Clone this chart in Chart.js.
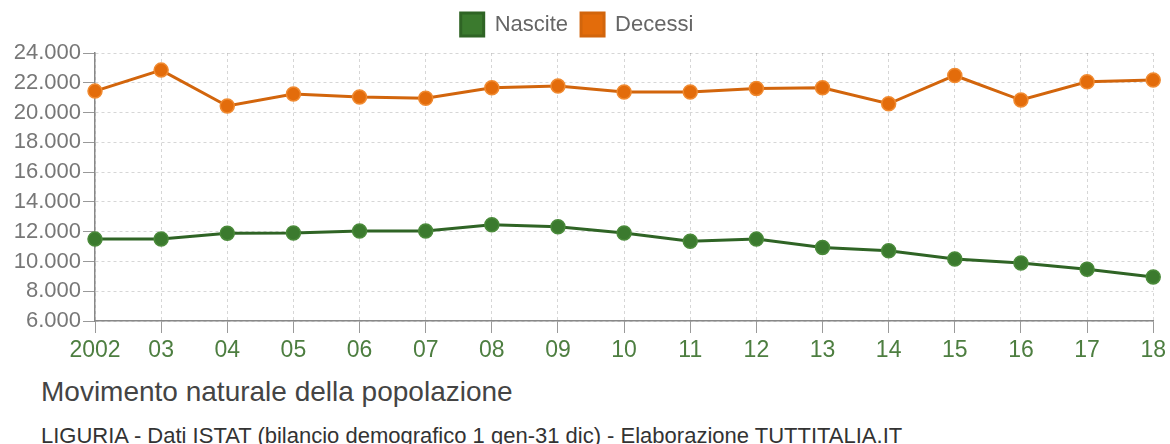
<!DOCTYPE html>
<html lang="it">
<head>
  <meta charset="UTF-8">
  <title>Movimento naturale della popolazione</title>
  <script src="https://cdn.jsdelivr.net/npm/chart.js"></script>
  <style>
    body {
      margin: 0;
      background: #fff;
      font-family: 'Liberation Sans', Arial, sans-serif;
    }
    #wrap {
      position: relative;
      width: 1170px;
      height: 444px;
    }
    #chart {
      position: absolute;
      left: 0;
      top: 0;
    }
    .title {
      position: absolute;
      left: 41px;
      top: 378px;
      font-size: 28px;
      line-height: 28px;
      color: #444;
    }
    .sub {
      position: absolute;
      left: 41px;
      top: 425px;
      font-size: 22px;
      line-height: 22px;
      color: #333;
    }
  </style>
</head>
<body>
  <div id="wrap">
    <canvas id="chart" width="1170" height="365"></canvas>
    <div class="title">Movimento naturale della popolazione</div>
    <div class="sub">LIGURIA - Dati ISTAT (bilancio demografico 1 gen-31 dic) - Elaborazione TUTTITALIA.IT</div>
  </div>

  <script>
    const anni = ['2002', '03', '04', '05', '06', '07', '08', '09', '10', '11', '12', '13', '14', '15', '16', '17', '18'];
    const nascite = [11500, 11510, 11900, 11910, 12040, 12040, 12460, 12330, 11910, 11350, 11500, 10940, 10720, 10160, 9890, 9480, 8960];
    const decessi = [21440, 22850, 20440, 21240, 21040, 20960, 21660, 21780, 21380, 21380, 21620, 21660, 20590, 22490, 20840, 22070, 22180];

    const verde = '#3b7a2e';
    const arancio = '#e36c0b';

    function migliaia(v) {
      return String(v).replace(/\B(?=(\d{3})+(?!\d))/g, '.');
    }

    // legenda piu' alta per lasciare spazio sopra il grafico
    const legendaAlta = {
      id: 'legendaAlta',
      beforeInit(chart) {
        const fit = chart.legend.fit;
        chart.legend.fit = function () {
          fit.bind(chart.legend)();
          this.height = 53;
        };
      }
    };

    Chart.defaults.font.family = "'Liberation Sans', Arial, sans-serif";
    Chart.defaults.color = '#666';

    const griglia = {
      color: 'rgba(0,0,0,0.16)',
      tickLength: 12,
      tickColor: '#999',
      tickBorderDash: []
    };

    new Chart(document.getElementById('chart'), {
      type: 'line',
      data: {
        labels: anni,
        datasets: [
          {
            label: 'Nascite',
            data: nascite,
            borderColor: '#2f6425',
            backgroundColor: verde,
            pointBackgroundColor: verde,
            pointBorderColor: '#4a8a3a',
            borderWidth: 3,
            pointRadius: 7,
            pointBorderWidth: 1.5,
            tension: 0
          },
          {
            label: 'Decessi',
            data: decessi,
            borderColor: '#d2650c',
            backgroundColor: arancio,
            pointBackgroundColor: arancio,
            pointBorderColor: '#f08a30',
            borderWidth: 3,
            pointRadius: 7,
            pointBorderWidth: 1.5,
            tension: 0
          }
        ]
      },
      plugins: [legendaAlta],
      options: {
        responsive: false,
        animation: false,
        layout: { padding: { top: 0, right: 16, left: 0, bottom: 0 } },
        plugins: {
          legend: {
            labels: {
              boxWidth: 23,
              boxHeight: 23,
              padding: 13,
              color: '#666',
              font: { size: 22 }
            }
          },
          tooltip: { enabled: false }
        },
        scales: {
          x: {
            offset: false,
            afterFit: (s) => { s.height = 44; },
            grid: griglia,
            border: { color: '#888', width: 1.5, dash: [3, 3] },
            ticks: {
              color: '#4d7e40',
              font: { size: 23 },
              maxRotation: 0,
              autoSkip: false,
              padding: 4
            }
          },
          y: {
            min: 6000,
            max: 24000,
            afterFit: (s) => { s.width = 95; },
            grid: griglia,
            border: { color: '#888', width: 1.5, dash: [3, 3] },
            ticks: {
              stepSize: 2000,
              color: '#777',
              font: { size: 22 },
              padding: 2,
              callback: (v) => migliaia(v)
            }
          }
        }
      }
    });
  </script>
</body>
</html>
